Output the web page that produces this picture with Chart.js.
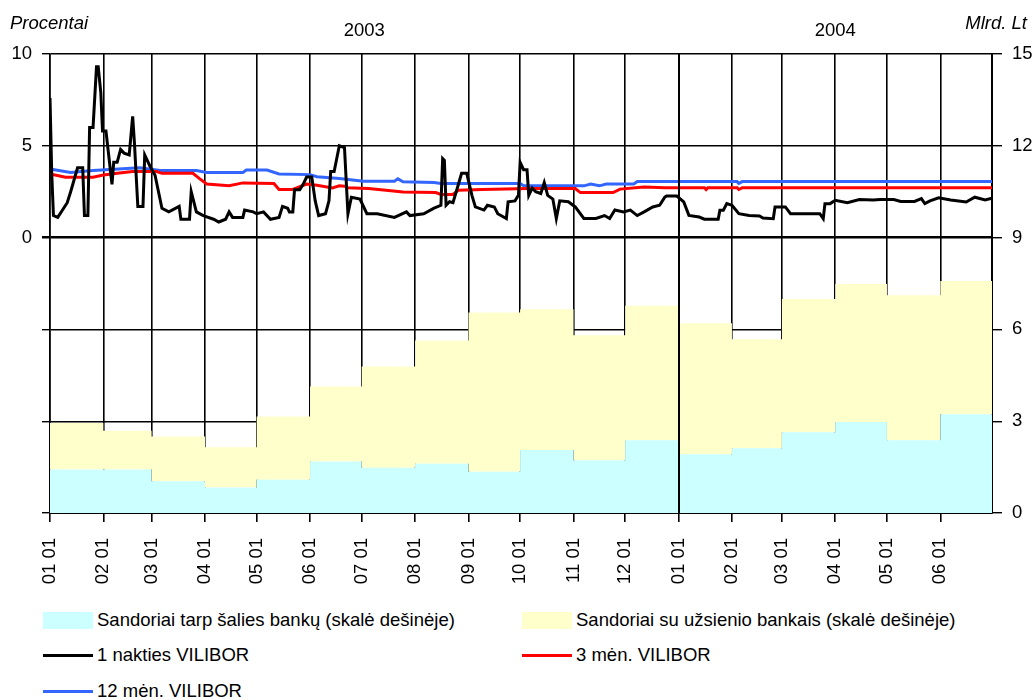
<!DOCTYPE html>
<html>
<head>
<meta charset="utf-8">
<script src="https://cdn.jsdelivr.net/npm/chart.js@4.4.0/dist/chart.umd.min.js"></script>
<style>
  body { margin: 0; background: #fff; font-family: "Liberation Sans", Arial, sans-serif; }
  #wrap { position: relative; width: 1034px; height: 700px; }
  #chartBox { position: absolute; left: 0; top: 0; width: 1034px; height: 590px; }
  .leg { position: absolute; font-size: 18.5px; color: #000; white-space: nowrap; line-height: 22px; }
  .mark { position: absolute; }
</style>
</head>
<body>
<div id="wrap">
  <div id="chartBox"><canvas id="vilibor"></canvas></div>
  <div id="legend"></div>
</div>
<script>
// month starts shown on the x axis (2003-01 .. 2004-06)
const monthStarts = ['2003-01-01','2003-02-01','2003-03-01','2003-04-01','2003-05-01','2003-06-01',
  '2003-07-01','2003-08-01','2003-09-01','2003-10-01','2003-11-01','2003-12-01',
  '2004-01-01','2004-02-01','2004-03-01','2004-04-01','2004-05-01','2004-06-01'];
const monthTickLabels = ['01 01','02 01','03 01','04 01','05 01','06 01','07 01','08 01','09 01',
  '10 01','11 01','12 01','01 01','02 01','03 01','04 01','05 01','06 01'];
const years = ['2003', '2004'];
const periodEnd = '2004-07-01';

// monthly turnover, mlrd. Lt (right scale)
const domesticDeals = [1.42, 1.42, 1.04, 0.83, 1.09, 1.68, 1.48, 1.61, 1.35, 2.06, 1.72, 2.38,
  1.92, 2.12, 2.64, 2.97, 2.38, 3.23];
const foreignDeals = [1.52, 1.27, 1.46, 1.32, 2.06, 2.45, 3.31, 4.03, 5.20, 4.60, 4.09, 4.39,
  4.28, 3.56, 4.35, 4.51, 4.74, 4.35];

// VILIBOR rates, % : [days since 2003-01-01, value]
const overnight = [[0,7.6],[1,3.5],[2,1.2],[4.5,1.1],[10,1.9],[12,2.5],[16,3.8],[19,3.8],[20,1.2],[22,1.2],
  [23,6.0],[25,6.0],[27,9.3],[28,9.3],[29.5,7.9],[30.5,5.8],[32.5,5.8],[36,2.9],[37,4.1],[39,4.1],[41,4.8],
  [43,4.6],[46,4.5],[48,6.6],[49,5.2],[51,1.7],[54,1.7],[55,4.5],[58,3.9],[61,3.4],[63,2.5],[65,1.6],[69,1.4],
  [75,1.7],[76,1.0],[81,1.0],[82,2.5],[85,1.4],[89,1.2],[95,1.0],[98,0.85],[102,1.0],[104,1.4],[106,1.1],
  [112,1.1],[113,1.5],[118,1.4],[120,1.3],[124,1.4],[128,1.0],[133,1.1],[135,1.7],[138,1.6],[139,1.4],[141,1.4],
  [142,2.6],[145,2.6],[147,2.9],[149,3.3],[152,3.3],[154,2.0],[156,1.2],[160,1.3],[162,2.0],[163,3.6],
  [165,3.6],[168,5.0],[171,4.9],[173,1.3],[175,2.2],[180,2.1],[184,1.3],[190,1.3],[200,1.1],[207,1.4],[209,1.2],
  [217,1.3],[223,1.6],[227,1.76],[228,4.3],[229,4.2],[230,1.76],[232,1.95],[234,1.9],[237,2.85],[239,3.5],
  [242,3.5],[245,2.3],[247,1.67],[252,1.5],[254,1.76],[258,1.67],[260,1.3],[265,1.04],[266,1.95],[270,2.0],
  [272,2.3],[273,4.1],[275,3.7],[277,3.7],[278,2.3],[280,2.7],[282,2.5],[285,2.4],[287,3.0],[289,2.3],
  [292,2.1],[294,1.04],[296,2.0],[301,1.95],[305,1.67],[310,1.04],[317,1.04],[322,1.2],[325,1.04],[328,1.5],
  [333,1.4],[337,1.5],[341,1.2],[345,1.4],[350,1.67],[354,1.76],[357,2.2],[358,2.26],[364,2.26],[368,1.94],
  [371,1.21],[377,1.12],[380,1.0],[388,1.0],[389,1.49],[391,1.49],[393,1.85],[396,1.76],[400,1.3],[406,1.21],
  [412,1.18],[414,1.07],[420,1.03],[421,1.67],[427,1.67],[430,1.3],[447,1.3],[449,1.03],[450,1.85],[453,1.85],
  [456,2.03],[463,1.9],[470,2.07],[478,2.05],[482,2.08],[490,2.07],[494,1.97],[502,1.97],[506,2.12],[508,1.85],
  [511,2.0],[516,2.17],[523,2.05],[532,1.94],[537,2.2],[543,2.05],[547,2.15]];
const threeMonth = [[0,3.47],[9,3.29],[25,3.29],[31,3.41],[39,3.5],[48,3.6],[62,3.6],[65,3.5],[83,3.5],[87,3.2],
  [91,2.92],[104,2.83],[112,2.98],[130,2.95],[133,2.62],[141,2.62],[149,2.92],[155,2.85],[164,2.7],[168,2.82],
  [171,2.8],[173,2.71],[185,2.67],[205,2.49],[224,2.45],[227,2.35],[234,2.35],[237,2.58],[251,2.62],[278,2.67],
  [305,2.67],[308,2.45],[327,2.45],[331,2.64],[345,2.76],[357,2.72],[380,2.72],[381,2.62],[382,2.72],
  [399,2.72],[400,2.62],[402,2.72],[547,2.72]];
const twelveMonth = [[0,3.74],[12,3.55],[25,3.65],[52,3.8],[64,3.65],[85,3.65],[91,3.55],[112,3.55],[114,3.68],
  [126,3.68],[133,3.47],[151,3.43],[155,3.32],[168,3.22],[182,3.07],[200,3.07],[202,3.2],[205,3.04],[223,3.0],
  [227,2.95],[273,2.95],[275,2.82],[310,2.82],[314,2.92],[319,2.82],[323,2.92],[339,2.92],[341,3.05],
  [399,3.05],[400,2.95],[402,3.05],[547,3.05]];

const seriesNames = ['Sandoriai tarp šalies bankų (skalė dešinėje)', 'Sandoriai su užsienio bankais (skalė dešinėje)',
  '1 nakties VILIBOR', '3 mėn. VILIBOR', '12 mėn. VILIBOR'];

const DAY = 86400000;
const dayOf = s => (Date.parse(s) - Date.parse(monthStarts[0])) / DAY;
const monthDays = monthStarts.map(dayOf);
const endDay = dayOf(periodEnd);
const yearCenters = [(monthDays[0] + monthDays[12]) / 2, (monthDays[12] + endDay) / 2];

function stepData(values) {
  const pts = values.map((v, i) => ({ x: monthDays[i], y: v }));
  pts.push({ x: endDay, y: values[values.length - 1] });
  return pts;
}
const toXY = arr => arr.map(p => ({ x: p[0], y: p[1] }));

Chart.defaults.font.family = "'Liberation Sans', Arial, sans-serif";
Chart.defaults.font.size = 18.5;
Chart.defaults.color = '#000';

const cornerTitles = {
  id: 'cornerTitles',
  afterDraw(chart) {
    const c = chart.ctx;
    c.save();
    c.font = 'italic 18.5px "Liberation Sans", Arial, sans-serif';
    c.fillStyle = '#000';
    c.textBaseline = 'middle';
    c.textAlign = 'left';
    c.fillText('Procentai', 10, 24);
    c.textAlign = 'right';
    c.fillText('Mlrd. Lt', 1027, 24);
    c.restore();
  }
};

const yearLine = {
  id: 'yearLine',
  afterDatasetsDraw(chart) {
    const x = Math.round(chart.scales.x.getPixelForValue(monthDays[12]));
    const c = chart.ctx;
    c.save();
    c.strokeStyle = '#000';
    c.lineWidth = 2;
    c.beginPath();
    c.moveTo(x, chart.chartArea.top);
    c.lineTo(x, chart.chartArea.bottom);
    c.stroke();
    c.restore();
  }
};

const colors = ['#ccffff', '#ffffcc', '#000000', '#ff0000', '#3366ff'];

new Chart(document.getElementById('vilibor'), {
  type: 'line',
  data: {
    datasets: [
      { label: seriesNames[0], data: stepData(domesticDeals), yAxisID: 'y1', stepped: true,
        backgroundColor: colors[0], borderWidth: 0, pointRadius: 0, fill: 'origin' },
      { label: seriesNames[1], data: stepData(foreignDeals), yAxisID: 'y1', stepped: true,
        backgroundColor: colors[1], borderWidth: 0, pointRadius: 0, fill: '-1' },
      { label: seriesNames[2], data: toXY(overnight), yAxisID: 'y', borderColor: colors[2],
        borderWidth: 3, pointRadius: 0, tension: 0, fill: false },
      { label: seriesNames[3], data: toXY(threeMonth), yAxisID: 'y', borderColor: colors[3],
        borderWidth: 3, pointRadius: 0, tension: 0, fill: false },
      { label: seriesNames[4], data: toXY(twelveMonth), yAxisID: 'y', borderColor: colors[4],
        borderWidth: 3, pointRadius: 0, tension: 0, fill: false }
    ]
  },
  options: {
    responsive: true,
    maintainAspectRatio: false,
    animation: false,
    layout: { padding: 0 },
    plugins: { legend: { display: false }, tooltip: { enabled: false } },
    scales: {
      x: {
        type: 'linear', position: 'bottom', min: 0, max: endDay,
        afterBuildTicks: s => { s.ticks = monthDays.map(v => ({ value: v })); },
        afterFit: s => { s.height = 77; },
        ticks: { autoSkip: false, maxRotation: 90, minRotation: 90, padding: 16,
          callback: (v, i) => monthTickLabels[i] },
        grid: { color: '#000', lineWidth: 1.6, tickLength: 9 },
        border: { color: '#000', width: 2 }
      },
      x2: {
        type: 'linear', position: 'top', min: 0, max: endDay,
        afterBuildTicks: s => { s.ticks = yearCenters.map(v => ({ value: v })); },
        afterFit: s => { s.height = 54; },
        ticks: { autoSkip: false, maxRotation: 0, padding: 4, callback: (v, i) => years[i] },
        grid: { display: false },
        border: { display: false }
      },
      y: {
        position: 'left', min: -15, max: 10,
        afterFit: s => { s.width = 50; },
        ticks: { stepSize: 5, padding: 10, callback: v => (v >= 0 ? String(v) : '') },
        grid: { color: '#000', tickLength: 8,
          lineWidth: ctx => (ctx.tick && ctx.tick.value === 0 ? 2.5 : 1.4) },
        border: { color: '#000', width: 1.6 }
      },
      y1: {
        position: 'right', min: 0, max: 15, stacked: true,
        afterFit: s => { s.width = 42; },
        ticks: { stepSize: 3, padding: 10 },
        grid: { drawOnChartArea: false, color: '#000', tickLength: 10, lineWidth: 1.4 },
        border: { color: '#000', width: 2 }
      }
    }
  },
  plugins: [cornerTitles, yearLine]
});

// legend below the chart, two columns
const legendSlots = [[43, 620], [522, 620], [43, 655], [522, 655], [43, 691]];
const legendEl = document.getElementById('legend');
seriesNames.forEach((name, i) => {
  const [lx, ly] = legendSlots[i];
  const m = document.createElement('div');
  m.className = 'mark';
  if (i < 2) {
    Object.assign(m.style, { left: lx + 'px', top: (ly - 8) + 'px', width: '50px', height: '17px', background: colors[i] });
  } else {
    Object.assign(m.style, { left: lx + 'px', top: (ly - 1) + 'px', width: '50px', height: '3px', background: colors[i] });
  }
  legendEl.appendChild(m);
  const t = document.createElement('div');
  t.className = 'leg';
  t.textContent = name;
  Object.assign(t.style, { left: (lx + 54) + 'px', top: (ly - 11) + 'px' });
  legendEl.appendChild(t);
});
</script>
</body>
</html>
